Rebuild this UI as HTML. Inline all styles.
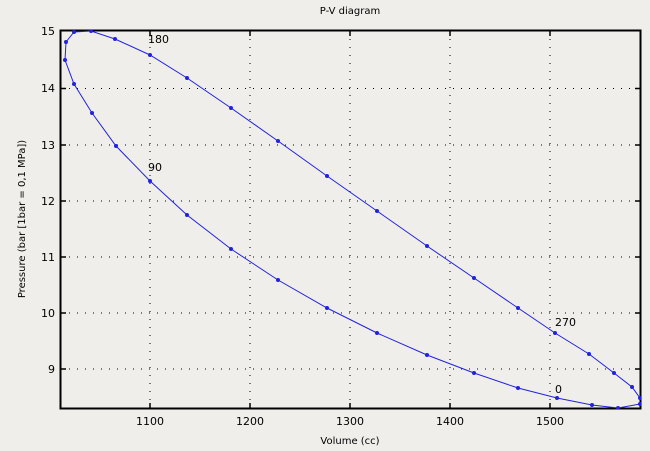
<!DOCTYPE html>
<html><head><meta charset="utf-8"><style>
html,body{margin:0;padding:0;background:#efeeeb;}
svg{display:block;font-family:"DejaVu Sans","Liberation Sans",sans-serif;}
</style></head><body>
<svg width="650" height="451" viewBox="0 0 650 451">
<rect width="650" height="451" fill="#efeeeb"/>
<text x="350" y="14" font-size="10" text-anchor="middle" fill="#000">P-V diagram</text>
<g stroke="#000" stroke-width="1" stroke-dasharray="1,7">
<line x1="150" y1="31" x2="150" y2="408"/><line x1="250" y1="31" x2="250" y2="408"/>
<line x1="350" y1="31" x2="350" y2="408"/><line x1="450" y1="31" x2="450" y2="408"/>
<line x1="550" y1="31" x2="550" y2="408"/>
<line x1="61" y1="88.5" x2="640" y2="88.5"/><line x1="61" y1="145" x2="640" y2="145"/>
<line x1="61" y1="201" x2="640" y2="201"/><line x1="61" y1="257" x2="640" y2="257"/>
<line x1="61" y1="313" x2="640" y2="313"/><line x1="61" y1="369" x2="640" y2="369"/>
</g>
<g stroke="#000" stroke-width="1.5">
<line x1="150" y1="408" x2="150" y2="403"/><line x1="250" y1="408" x2="250" y2="403"/><line x1="350" y1="408" x2="350" y2="403"/><line x1="450" y1="408" x2="450" y2="403"/><line x1="550" y1="408" x2="550" y2="403"/>
<line x1="150" y1="31" x2="150" y2="36"/><line x1="250" y1="31" x2="250" y2="36"/><line x1="350" y1="31" x2="350" y2="36"/><line x1="450" y1="31" x2="450" y2="36"/><line x1="550" y1="31" x2="550" y2="36"/>
<line x1="61" y1="88.5" x2="66" y2="88.5"/><line x1="61" y1="145" x2="66" y2="145"/><line x1="61" y1="201" x2="66" y2="201"/><line x1="61" y1="257" x2="66" y2="257"/><line x1="61" y1="313" x2="66" y2="313"/><line x1="61" y1="369" x2="66" y2="369"/>
<line x1="640" y1="88.5" x2="635" y2="88.5"/><line x1="640" y1="145" x2="635" y2="145"/><line x1="640" y1="201" x2="635" y2="201"/><line x1="640" y1="257" x2="635" y2="257"/><line x1="640" y1="313" x2="635" y2="313"/><line x1="640" y1="369" x2="635" y2="369"/>
</g>
<rect x="60.5" y="30.5" width="580" height="378" fill="none" stroke="#000" stroke-width="2"/>
<g font-size="11" fill="#000" text-anchor="end">
<text x="55" y="35">15</text><text x="55" y="92">14</text><text x="55" y="149">13</text><text x="55" y="205">12</text><text x="55" y="261">11</text><text x="55" y="317">10</text><text x="55" y="373">9</text>
</g>
<g font-size="11" fill="#000" text-anchor="middle">
<text x="150" y="425">1100</text><text x="250" y="425">1200</text><text x="350" y="425">1300</text><text x="450" y="425">1400</text><text x="550" y="425">1500</text>
<text x="350" y="444" font-size="10">Volume (cc)</text>
</g>
<text transform="translate(25,219) rotate(-90)" font-size="10" text-anchor="middle">Pressure (bar [1bar = 0,1 MPa])</text>
<g font-size="11" fill="#000">
<text x="148" y="43">180</text><text x="148" y="171">90</text><text x="555" y="326">270</text><text x="555" y="393">0</text>
</g>
<svg x="60" y="30" width="581" height="379" viewBox="60 30 581 379" overflow="hidden">
<polyline fill="none" stroke="#2222dd" stroke-width="1" points="640,398 632,387 614,373 589,354 555,333 518,308 474,278 427,246 377,211 327,176 278,141 231,108 187,78 150,55 115,39 91,31 74,32 66,42 65,60 74,84 92,113 116,146 150,181 187,215 231,249 278,280 327,308 377,333 427,355 474,373 518,388 557,398 592,405 618,408 640,404"/>
<g fill="#2222dd">
<circle cx="640" cy="398" r="2"/><circle cx="632" cy="387" r="2"/><circle cx="614" cy="373" r="2"/><circle cx="589" cy="354" r="2"/><circle cx="555" cy="333" r="2"/><circle cx="518" cy="308" r="2"/><circle cx="474" cy="278" r="2"/><circle cx="427" cy="246" r="2"/><circle cx="377" cy="211" r="2"/><circle cx="327" cy="176" r="2"/><circle cx="278" cy="141" r="2"/><circle cx="231" cy="108" r="2"/><circle cx="187" cy="78" r="2"/><circle cx="150" cy="55" r="2"/><circle cx="115" cy="39" r="2"/><circle cx="91" cy="31" r="2"/><circle cx="74" cy="32" r="2"/><circle cx="66" cy="42" r="2"/><circle cx="65" cy="60" r="2"/><circle cx="74" cy="84" r="2"/><circle cx="92" cy="113" r="2"/><circle cx="116" cy="146" r="2"/><circle cx="150" cy="181" r="2"/><circle cx="187" cy="215" r="2"/><circle cx="231" cy="249" r="2"/><circle cx="278" cy="280" r="2"/><circle cx="327" cy="308" r="2"/><circle cx="377" cy="333" r="2"/><circle cx="427" cy="355" r="2"/><circle cx="474" cy="373" r="2"/><circle cx="518" cy="388" r="2"/><circle cx="557" cy="398" r="2"/><circle cx="592" cy="405" r="2"/><circle cx="618" cy="408" r="2"/><circle cx="640" cy="404" r="2"/>
</g>
</svg>
</svg>
</body></html>
